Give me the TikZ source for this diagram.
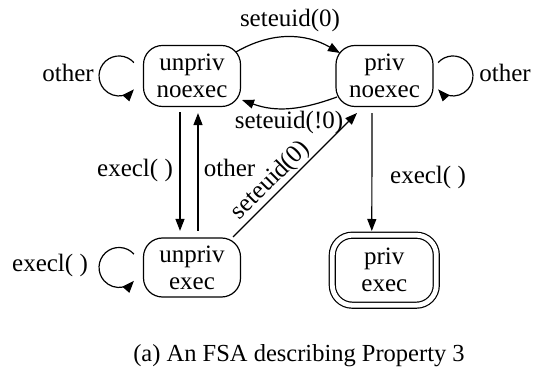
\documentclass[tikz,border=0pt]{standalone}
\usepackage{fontspec}
\setmainfont{Liberation Serif}
\usetikzlibrary{arrows.meta}

\begin{document}
\begin{tikzpicture}[x=1pt, y=1pt,
    line width=1.2pt,
    every node/.style={font=\fontsize{25}{27}\selectfont},
    state/.style={draw, rectangle, rounded corners=19pt, align=center,
                  minimum width=97pt, minimum height=61pt, inner sep=0pt},
    final/.style={state, double, double distance=4.8pt, rounded corners=20pt,
                  minimum width=104pt, minimum height=70pt},
    arr/.style={-{Triangle[length=12pt, width=9pt]}},
    lbl/.style={anchor=base, inner sep=0pt}]

  \useasboundingbox (0,0) rectangle (534,366);

  % states
  \node[state] (un) at (192,290)   {unpriv\\noexec};
  \node[state] (pn) at (384.5,290) {priv\\noexec};
  \node[state, minimum height=59pt] (ue) at (192,98.5) {unpriv\\exec};
  \node[final] (pe) at (384.3,95.8) {priv\\exec};

  % transitions between the two noexec states
  \draw[arr] ([shift={(44,24)}]un.center) to[out=30, in=150]
             ([shift={(-44.5,23)}]pn.center);
  \node[lbl] (l1) at (290,339) {seteuid(0)};
  \draw[arr] ([shift={(-47.5,-21)}]pn.center) to[out=-160, in=-20]
             ([shift={(50,-24)}]un.center);
  \node[lbl] (l2) at (289,237) {seteuid(!0)};

  % self loops
  \draw[arr] ([shift={(-58.1,13.4)}]un.center) arc[start angle=42, end angle=318, radius=20];
  \node[lbl] (l3) at (68,284.3) {other};
  \draw[arr] ([shift={(53.6,13.4)}]pn.center) arc[start angle=138, end angle=-138, radius=20];
  \node[lbl] (l4) at (505,284.3) {other};
  \draw[arr] ([shift={(-58.1,13.4)}]ue.center) arc[start angle=42, end angle=318, radius=20];
  \node[lbl] (l5) at (50,94) {execl( )};

  % vertical transitions
  \draw[arr] ([xshift=-12pt, yshift=-5pt]un.south) -- ([xshift=-12pt, yshift=6.5pt]ue.north);
  \node[lbl] (l6) at (135,189) {execl( )};
  \draw[arr] ([xshift=6pt, yshift=6.5pt]ue.north) -- ([xshift=6pt, yshift=-6pt]un.south);
  \node[lbl] (l7) at (229.5,189) {other};
  \draw[arr] ([xshift=-12.5pt, yshift=-6pt]pn.south) -- ([xshift=-12.5pt, yshift=3.6pt]pe.north);
  \node[lbl] (l8) at (428,182) {execl( )};

  % diagonal transition
  \draw[arr] ([shift={(41,30.5)}]ue.center) -- ([shift={(-27.5,-37)}]pn.center)
    node[sloped, pos=0.38, above=1pt, inner sep=0pt] (l9) {seteuid(0)};

  % caption
  \node[lbl, font=\fontsize{24.5}{27}\selectfont] (cap) at (299,5) {(a) An FSA describing Property 3};
\end{tikzpicture}
\end{document}
